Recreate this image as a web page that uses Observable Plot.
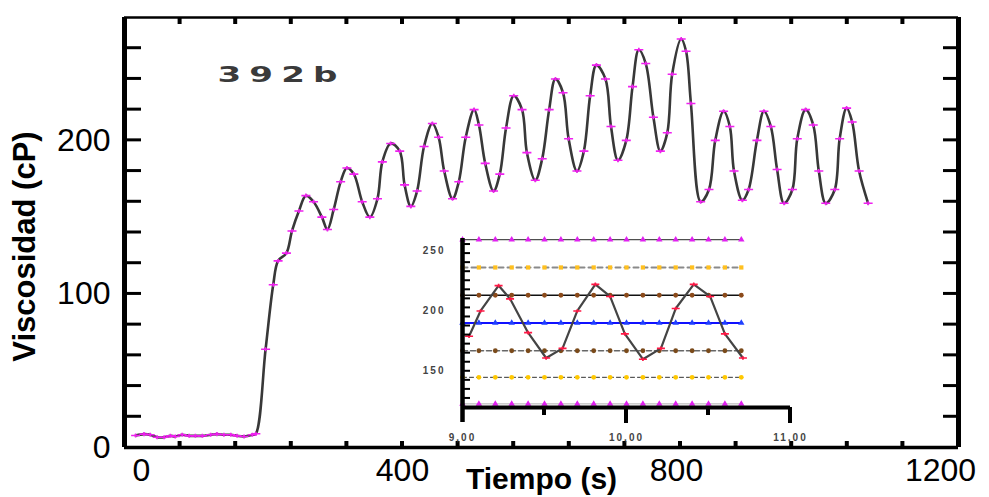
<!DOCTYPE html>
<html><head><meta charset="utf-8">
<script src="https://cdn.jsdelivr.net/npm/d3@7"></script>
<script src="https://cdn.jsdelivr.net/npm/@observablehq/plot@0.6"></script>
<style>
html,body{margin:0;padding:0;background:#fff;}
#chart{position:relative;width:989px;height:497px;overflow:hidden;background:#fff;}
#chart > svg{position:absolute;overflow:visible;}
</style>
</head><body><div id="chart"></div>
<script>
// ---------- data ----------
const sampleName = "392b";
const xTitle = "Tiempo (s)";
const yTitle = "Viscosidad (cP)";
const xTickLabels = [0, 400, 800, 1200];
const yTickLabels = [0, 100, 200];
const xMinorTicks = [80, 160, 240, 320, 400, 480, 560, 640, 720, 800, 880, 960, 1040, 1120];
const yMinorTicks = [20, 40, 60, 80, 100, 120, 140, 160, 180, 200, 220, 240, 260];

// main series: time (s) and viscosity (cP)
const mainTime = [16, 28, 37, 47, 57, 66, 73, 83, 93, 102, 112, 124, 133, 143, 153, 162, 172, 184, 189,
  203, 214, 221, 233,
  241, 251, 261, 272, 284, 292, 301, 311, 320, 330, 342, 353, 364, 371, 383, 396, 403, 412, 421, 431,
  443, 452, 460, 472, 481, 491, 503, 510, 519, 531, 540, 549, 560, 572, 579, 591, 601, 611, 620, 631,
  639, 651, 661, 670, 679, 692, 700, 710, 722, 731, 740, 750, 761, 771, 781, 788, 801, 808, 815, 829,
  841, 850, 862, 871, 877, 889, 898, 910, 920, 930, 939, 949, 961, 968, 980, 991, 999, 1009, 1022,
  1029, 1039, 1047, 1057, 1070];
const mainVisc = [7.8, 8.7, 8.3, 6.7, 6.7, 7.6, 7.2, 8.3, 7.6, 7.6, 7.6, 8.3, 8.7, 8.3, 8.3, 7.6, 7.2, 8.3, 9.0,
  64, 106, 121.5, 126.6,
  141, 154, 164, 160, 150, 142, 155, 173, 182, 178, 160, 150, 162, 186, 198, 193, 171, 157, 167, 196,
  211, 202, 180, 162, 173, 202, 220, 210, 185, 167, 178, 208, 229, 220, 192, 174, 188, 220, 240, 231,
  201, 180, 193, 229, 249, 240, 209, 187, 200, 235, 259, 250, 215, 193, 205, 243, 266, 258, 224, 160,
  168, 200, 219, 209, 180, 161, 168, 200, 219, 209, 181, 159, 168, 201, 220, 210, 180, 159, 168,
  201, 221, 212, 180, 159];

// inset: control chart (time in min)
const insetTime = [9.04, 9.11, 9.22, 9.29, 9.40, 9.51, 9.61, 9.70, 9.81, 9.90, 9.99, 10.10, 10.21, 10.30, 10.41, 10.51, 10.60, 10.71];
const insetVisc = [179, 200, 221, 210, 182, 161, 169, 200, 222, 212, 181, 160, 169, 202, 222, 212, 181, 161];
const insetLevels = [259, 236, 213, 190, 167, 145, 123];
const insetMarkTime = [9.0, 9.1, 9.2, 9.3, 9.4, 9.5, 9.6, 9.7, 9.8, 9.9, 10.0, 10.1, 10.2, 10.3, 10.4, 10.5, 10.6, 10.7];
const insetXTicks = [9, 10, 11];
const insetXTickText = ["9,00", "10,00", "11,00"];
const insetXShortTicks = [9.5, 10.5];
const insetXLongTicks = [10, 11];
const insetYTicks = [150, 200, 250];
const insetYMinorTicks = [127.5, 135, 142.5, 150, 157.5, 165, 172.5, 180, 187.5, 195, 202.5, 210, 217.5, 225, 232.5, 240, 247.5, 255];

// ---------- styles ----------
const font = "'Liberation Sans', Arial, sans-serif";
const dashSymbol = {draw(ctx, size) {
  const r = Math.sqrt(size / Math.PI);
  ctx.moveTo(-r, 0); ctx.lineTo(r, 0);
  ctx.moveTo(0, -r * 0.45); ctx.lineTo(0, r * 0.45);
}};
const xLabelShift = [17, 0, -4, -18];
const levelStyle = [
  {line: "#222", w: 1, dash: null, mark: "#e020f0", sym: "triangle"},
  {line: "#8a8a8a", w: 2, dash: "5,4", mark: "#ffc020", sym: "square"},
  {line: "#111", w: 1.6, dash: null, mark: "#8b4a1a", sym: "circle"},
  {line: "#1010ff", w: 1.8, dash: null, mark: "#2040ff", sym: "triangle"},
  {line: "#666", w: 1.6, dash: "5,3", mark: "#7a4a1a", sym: "circle"},
  {line: "#333", w: 1, dash: "4,3", mark: "#ffc800", sym: "circle"},
  {line: "#999", w: 0.8, dash: null, mark: "#e020f0", sym: "triangle"}
];

const mainData = mainTime.map((t, i) => ({t, v: mainVisc[i]}));
const insetData = insetTime.map((t, i) => ({t, v: insetVisc[i]}));

// ---------- main chart ----------
const mainPlot = Plot.plot({
  width: 989, height: 497,
  marginLeft: 124, marginRight: 31, marginTop: 17, marginBottom: 50,
  style: {fontFamily: font, background: "transparent", color: "#000", overflow: "visible"},
  x: {domain: [0, 1200], axis: null},
  y: {domain: [0, 280]},
  marks: [
    Plot.axisY(yTickLabels, {anchor: "left", tickSize: 0, tickPadding: 14, fontSize: 32, label: null}),
    ...xTickLabels.map((v, i) => Plot.text([v], {x: d => d, text: d => String(d), frameAnchor: "bottom", lineAnchor: "middle", dy: 23, dx: xLabelShift[i], fontSize: 32})),
    Plot.text([yTitle], {text: d => d, frameAnchor: "left", textAnchor: "middle", rotate: -90, dx: -99, dy: 14, fontSize: 31, fontWeight: "bold", lineAnchor: "middle"}),
    Plot.text([xTitle], {text: d => d, frameAnchor: "bottom", lineAnchor: "middle", dy: 32, fontSize: 30, fontWeight: "bold"}),
    Plot.text([sampleName], {text: d => d, frameAnchor: "top-left", lineAnchor: "middle", textAnchor: "start", dx: 93, dy: 58, fontSize: 21, fontWeight: "bold", fill: "#3a3a3a", fontFamily: "'DejaVu Sans', sans-serif"}),
    Plot.line(mainData, {x: "t", y: "v", stroke: "#383838", strokeWidth: 2.6, curve: "catmull-rom"}),
    Plot.dot(mainData, {x: "t", y: "v", symbol: dashSymbol, r: 4.5, fill: "none", stroke: "#f020f0", strokeWidth: 1.6}),
    Plot.ruleX([0], {stroke: "#000", strokeWidth: 5}),
    Plot.ruleX([1200], {stroke: "#000", strokeWidth: 5}),
    Plot.ruleY([0], {stroke: "#000", strokeWidth: 3.5}),
    Plot.ruleY([280], {stroke: "#000", strokeWidth: 2.5})
  ]
});
mainPlot.style.left = "0px"; mainPlot.style.top = "0px";

// ---------- inset ----------
const levelMarks = insetLevels.flatMap((lv, i) => {
  const s = levelStyle[i];
  const pts = insetMarkTime.map(t => ({t, v: lv}));
  return [
    Plot.line(pts, {x: "t", y: "v", stroke: s.line, strokeWidth: s.w, strokeDasharray: s.dash}),
    Plot.dot(pts, {x: "t", y: "v", symbol: s.sym, r: 2.4, fill: s.mark, stroke: "none"})
  ];
});

const insetPlot = Plot.plot({
  width: 420, height: 230,
  marginLeft: 62, marginRight: 30, marginTop: 13, marginBottom: 48,
  style: {fontFamily: font, background: "transparent", color: "#000", overflow: "visible"},
  x: {domain: [9, 11], axis: null},
  y: {domain: [120, 260], axis: null},
  marks: [
    ...levelMarks,
    Plot.line(insetData, {x: "t", y: "v", stroke: "#444", strokeWidth: 2.2}),
    Plot.dot(insetData, {x: "t", y: "v", symbol: dashSymbol, r: 4, fill: "none", stroke: "#ff1744", strokeWidth: 1.6}),
    Plot.ruleX([9], {stroke: "#000", strokeWidth: 4.5, insetBottom: -15}),
    Plot.ruleY([120], {stroke: "#000", strokeWidth: 4}),
    Plot.text(insetXTicks, {x: d => d, text: (d, i) => insetXTickText[i], frameAnchor: "bottom", lineAnchor: "middle", dy: 30, fontSize: 10, fontWeight: "bold", fill: "#444"}),
    Plot.text(insetYTicks, {y: d => d, text: d => String(d), frameAnchor: "left", textAnchor: "end", dx: -17, fontSize: 10, fontWeight: "bold", fill: "#444"})
  ]
});
insetPlot.style.left = "400px"; insetPlot.style.top = "225px";

const chartDiv = document.getElementById("chart");
chartDiv.appendChild(mainPlot);
chartDiv.appendChild(insetPlot);

// ---------- tick marks, placed through the plots' own scales ----------
function addTicks(svg, list) {
  const g = d3.select(svg).append("g").attr("aria-label", "frame ticks").attr("stroke", "#000");
  list.forEach(t => {
    g.append("line").attr("x1", t.x1).attr("x2", t.x2).attr("y1", t.y1).attr("y2", t.y2).attr("stroke-width", t.w);
  });
}
{
  const sx = mainPlot.scale("x").apply, sy = mainPlot.scale("y").apply;
  const x0 = sx(0), x1 = sx(1200), y0 = sy(0), y1 = sy(280);
  const ticks = [];
  yMinorTicks.forEach(v => {
    ticks.push({x1: x0, x2: x0 + 17, y1: sy(v), y2: sy(v), w: 3});
    ticks.push({x1: x1 - 15, x2: x1, y1: sy(v), y2: sy(v), w: 3});
  });
  xMinorTicks.forEach(v => {
    ticks.push({x1: sx(v), x2: sx(v), y1: y1, y2: y1 + 7, w: 4});
    ticks.push({x1: sx(v), x2: sx(v), y1: y0, y2: y0 - 6, w: 4});
  });
  addTicks(mainPlot, ticks);
}
{
  const sx = insetPlot.scale("x").apply, sy = insetPlot.scale("y").apply;
  const x0 = sx(9), y0 = sy(120);
  const ticks = [];
  insetYMinorTicks.forEach(v => ticks.push({x1: x0, x2: x0 + 8, y1: sy(v), y2: sy(v), w: 2}));
  insetXShortTicks.forEach(v => ticks.push({x1: sx(v), x2: sx(v), y1: y0, y2: y0 + 8, w: 4}));
  insetXLongTicks.forEach(v => ticks.push({x1: sx(v), x2: sx(v), y1: y0, y2: y0 + 16, w: 4}));
  addTicks(insetPlot, ticks);
}

// text fine-tuning
d3.select(mainPlot).selectAll("text").filter(function() { return this.textContent === sampleName; })
  .attr("textLength", 128).attr("lengthAdjust", "spacingAndGlyphs").style("letter-spacing", "5px");
d3.select(insetPlot).selectAll("text").style("letter-spacing", "2px");
</script>
</body></html>
